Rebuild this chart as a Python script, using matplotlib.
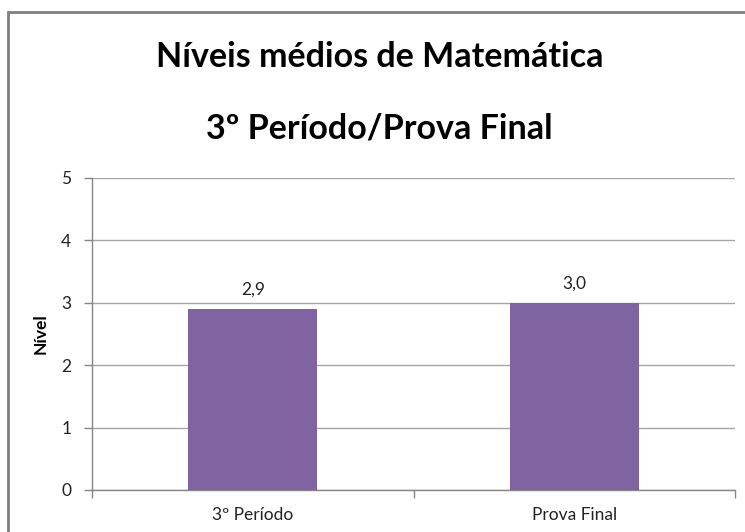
import matplotlib
matplotlib.use("Agg")
import matplotlib.pyplot as plt
from matplotlib.patches import Rectangle

categories = ["3º Período", "Prova Final"]
values = [2.9, 3.0]
value_labels = ["2,9", "3,0"]
y_ticks = [0, 1, 2, 3, 4, 5]

BAR = "#8064A2"
GRID = "#a6a6a6"
AXIS = "#868686"

plt.rcParams["font.family"] = ["Lato", "DejaVu Sans"]

W, H = 745, 532
fig = plt.figure(figsize=(W / 100, H / 100), dpi=100)
fig.patch.set_facecolor("white")

# plot area in pixels: left 92, right 735, top 178, bottom 490
ax = fig.add_axes([92 / W, 1 - 490 / H, (735 - 92) / W, (490 - 178) / H])

x = list(range(len(categories)))
ax.bar(x, values, width=0.4, color=BAR, zorder=3)
ax.set_xlim(-0.5, len(categories) - 0.5)
ax.set_ylim(0, 5)

ax.set_yticks(y_ticks)
ax.set_yticklabels([str(t) for t in y_ticks], fontsize=12.5, color="#222222")
ax.yaxis.grid(True, color=GRID, linewidth=1, zorder=0)
ax.tick_params(axis="y", length=6, color=AXIS, width=1, pad=9)

# category labels at centres, tick marks at boundaries
ax.set_xticks(x)
ax.set_xticklabels(categories, fontsize=12.5, color="#222222")
ax.tick_params(axis="x", length=0, pad=12)
ax.set_xticks([-0.5, 0.5, 1.5], minor=True)
ax.tick_params(axis="x", which="minor", length=6, color=AXIS, width=1)

for s in ["top", "right"]:
    ax.spines[s].set_visible(False)
for s in ["left", "bottom"]:
    ax.spines[s].set_color(AXIS)
    ax.spines[s].set_linewidth(1)

ax.set_ylabel("Nível", fontsize=12.5, fontweight="bold", labelpad=9)

for xi, v, lab in zip(x, values, value_labels):
    ax.annotate(lab, (xi, v), xytext=(0, 8), textcoords="offset points",
                ha="center", va="bottom", fontsize=12.5, color="#222222")

fig.text(0.5 + 7 / W, 1 - 57 / H, "Níveis médios de Matemática",
         ha="center", va="center", fontsize=24.5, fontweight="bold")
fig.text(0.5 + 7 / W, 1 - 128 / H, "3º Período/Prova Final",
         ha="center", va="center", fontsize=24.5, fontweight="bold")

# chart border (left and top edges visible)
fig.patches.append(Rectangle((8 / W, -0.1), 1.2, 1.1 - 12 / H,
                             transform=fig.transFigure, fill=False,
                             edgecolor="#7f7f7f", linewidth=2))

fig.savefig("out.png", dpi=100, facecolor="white")
